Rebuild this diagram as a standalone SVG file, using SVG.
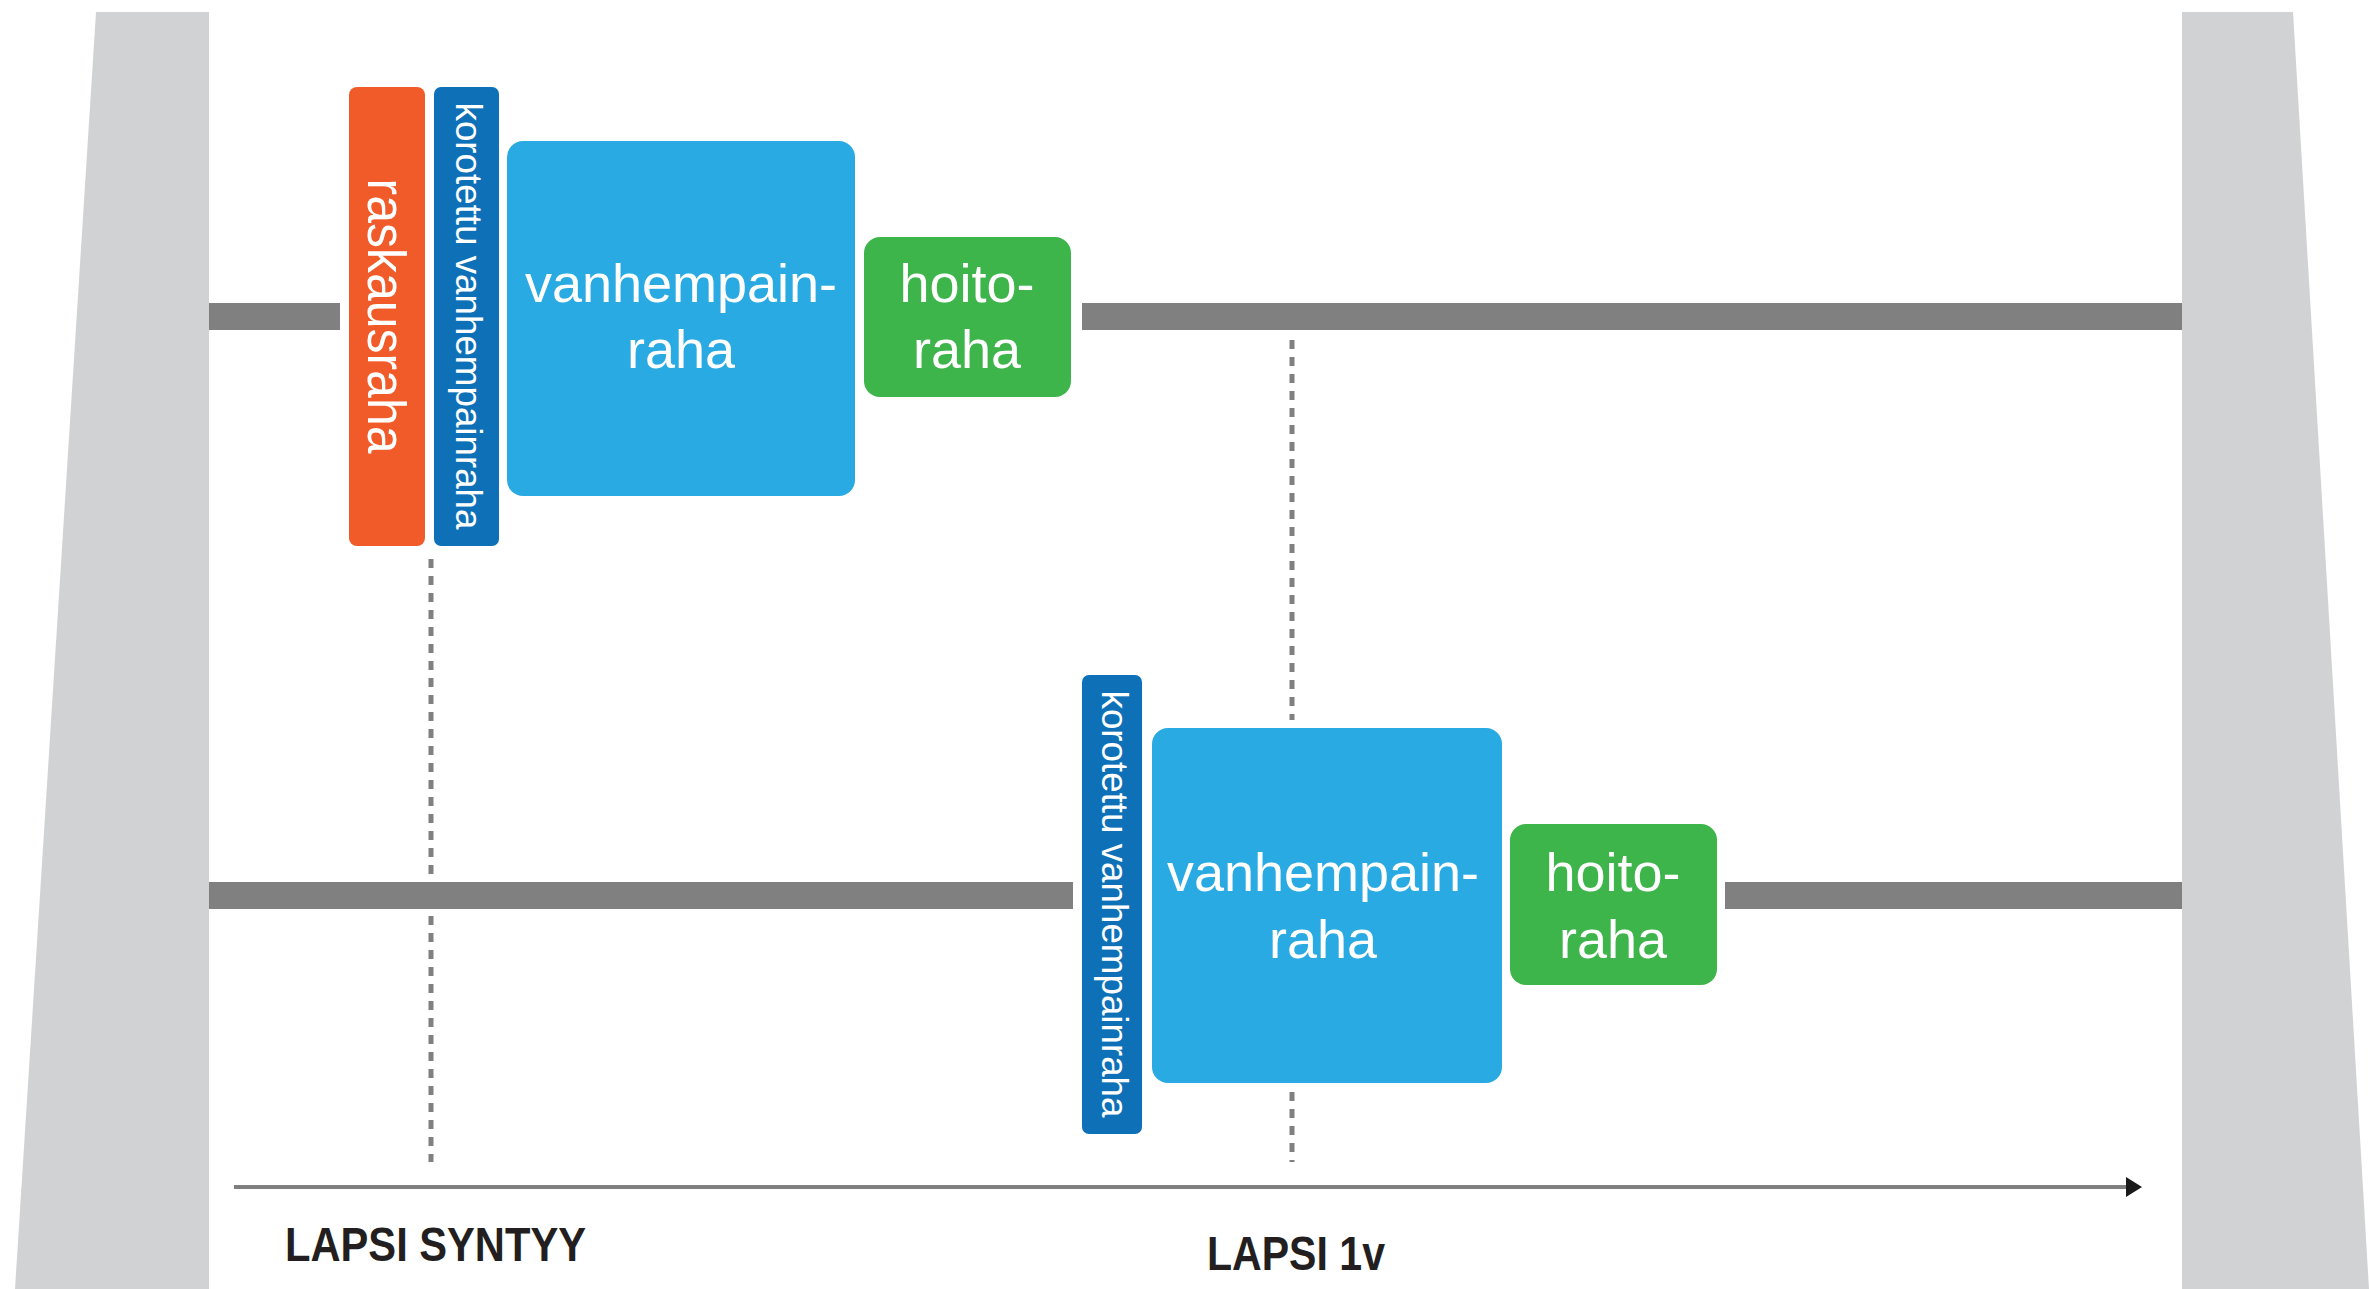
<svg xmlns="http://www.w3.org/2000/svg" width="2369" height="1289" viewBox="0 0 2369 1289">
<defs>
<style>
.pillar{fill:#d1d2d4}
.bar{fill:#808080}
.dot{stroke:#808080;stroke-width:5;stroke-dasharray:9 8;fill:none}
.orange{fill:#f15a29}
.dblue{fill:#0e71b8}
.lblue{fill:#2aaae2}
.green{fill:#3db54a}
.big{font-family:"Liberation Sans",Arial,sans-serif;font-size:54px;fill:#ffffff;text-anchor:middle}
.vert{font-family:"Liberation Sans",Arial,sans-serif;font-size:37px;fill:#ffffff;text-anchor:middle}
.lbl{font-family:"Liberation Sans",Arial,sans-serif;font-size:49px;font-weight:bold;fill:#231f20}
</style>
<marker id="arr" markerWidth="4" markerHeight="5" refX="0.5" refY="2.5" orient="auto" markerUnits="strokeWidth">
<path d="M0,0 L4,2.5 L0,5 Z" fill="#1a1a1a"/>
</marker>
</defs>
<rect width="2369" height="1289" fill="#ffffff"/>
<g id="pillars">
<polygon class="pillar" points="96,12 209,12 209,1289 15,1289"/>
<polygon class="pillar" points="2182,12 2293,12 2369,1289 2182,1289"/>
</g>
<g id="connectors">
<line class="dot" x1="431" y1="559" x2="431" y2="1162"/>
<line class="dot" x1="1292" y1="340" x2="1292" y2="720"/>
<line class="dot" x1="1292" y1="1092" x2="1292" y2="1162"/>
<rect class="bar" x="209" y="303" width="131" height="27"/>
<rect class="bar" x="1082" y="303" width="1100" height="27"/>
<rect class="bar" x="209" y="882" width="864" height="27"/>
<rect class="bar" x="1725" y="882" width="457" height="27"/>
<line x1="234" y1="1187" x2="2128" y2="1187" stroke="#7f7f7f" stroke-width="4" marker-end="url(#arr)"/>
</g>
<g id="raskausraha">
<rect class="orange" x="349" y="87" width="76" height="459" rx="8"/>
<text class="big" transform="translate(368,316) rotate(90)" textLength="275" lengthAdjust="spacingAndGlyphs">raskausraha</text>
</g>
<g id="korotettu1">
<rect class="dblue" x="434" y="87" width="65" height="459" rx="7"/>
<text class="vert" transform="translate(456,316) rotate(90)" textLength="427" lengthAdjust="spacingAndGlyphs">korotettu vanhempainraha</text>
</g>
<g id="vanhempainraha1">
<rect class="lblue" x="507" y="141" width="348" height="355" rx="16"/>
<text class="big" x="681" y="302">vanhempain-</text>
<text class="big" x="681" y="368">raha</text>
</g>
<g id="hoitoraha1">
<rect class="green" x="864" y="237" width="207" height="160" rx="16"/>
<text class="big" x="967" y="302">hoito-</text>
<text class="big" x="967" y="368">raha</text>
</g>
<g id="korotettu2">
<rect class="dblue" x="1082" y="675" width="60" height="459" rx="7"/>
<text class="vert" transform="translate(1102,904) rotate(90)" textLength="427" lengthAdjust="spacingAndGlyphs">korotettu vanhempainraha</text>
</g>
<g id="vanhempainraha2">
<rect class="lblue" x="1152" y="728" width="350" height="355" rx="16"/>
<text class="big" x="1323" y="891">vanhempain-</text>
<text class="big" x="1323" y="958">raha</text>
</g>
<g id="hoitoraha2">
<rect class="green" x="1510" y="824" width="207" height="161" rx="16"/>
<text class="big" x="1613" y="891">hoito-</text>
<text class="big" x="1613" y="958">raha</text>
</g>
<g id="labels">
<text class="lbl" x="285" y="1261" textLength="301" lengthAdjust="spacingAndGlyphs">LAPSI SYNTYY</text>
<text class="lbl" x="1207" y="1270" textLength="178" lengthAdjust="spacingAndGlyphs">LAPSI 1v</text>
</g>
</svg>
